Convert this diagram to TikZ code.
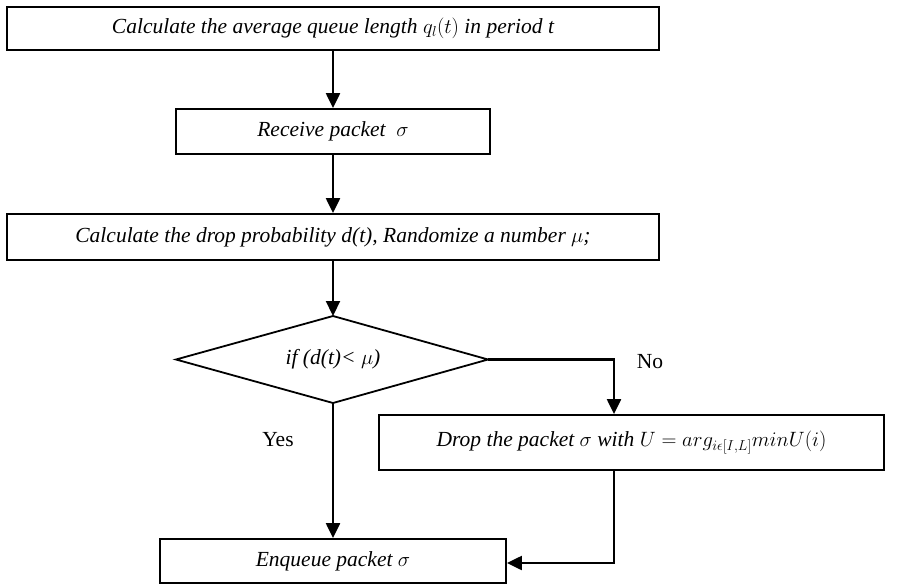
\documentclass[tikz,border=0pt]{standalone}
\usepackage{fontspec}
\setmainfont{Liberation Serif}
\usetikzlibrary{arrows.meta}
\begin{document}
\begin{tikzpicture}[x=1pt,y=-1pt,
  txt/.style={font=\fontsize{21.5}{25}\selectfont},
  box/.style={draw, line width=1.8pt, inner sep=0pt, font=\fontsize{21.5}{25}\selectfont\itshape},
  conn/.style={line width=2.2pt},
  arr/.style={conn, -{Triangle[length=15pt,width=14pt]}}]
\useasboundingbox (0,0) rectangle (911,584);
\node[box, minimum width=652pt, minimum height=43pt] (b1) at (333,28.5) {Calculate the average queue length $q_l(t)$ in period t};
\node[box, minimum width=314pt, minimum height=45pt] (b2) at (333,131.5) {Receive packet \ $\sigma$};
\node[box, minimum width=652pt, minimum height=46pt] (b3) at (333,237) {Calculate the drop probability d(t), Randomize a number $\mu$;};
\coordinate (dT) at (333,316);
\coordinate (dR) at (488,359.5);
\coordinate (dB) at (333,403);
\coordinate (dL) at (176,359.5);
\draw[line width=1.8pt] (dL) -- (dT) -- (dR) -- (dB) -- cycle;
\node[txt, font=\fontsize{21.5}{25}\selectfont\itshape] (dtext) at (333,359.5) {if (d(t)< $\mu$)};
\node[box, minimum width=505pt, minimum height=55pt] (b4) at (631.5,442.5) {Drop the packet $\sigma$ with $U = arg_{i\epsilon[I,L]} minU(i)$};
\node[box, minimum width=346pt, minimum height=44pt] (b5) at (333,561) {Enqueue packet $\sigma$};
\node[txt] (no) at (650,362) {No};
\node[txt] (yes) at (278,440) {Yes};
\coordinate (c1) at (614,359.5);
\coordinate (c2) at (614,563);
\draw[arr] (b1) -- (b2);
\draw[arr] (b2) -- (b3);
\draw[arr] (b3) -- (dT);
\draw[arr] (dR) -- (c1) -- (c1 |- b4.north);
\draw[arr] (dB) -- (dB |- b5.north);
\draw[arr] (b4.south -| c2) -- (c2) -- (b5.east |- c2);
\end{tikzpicture}
\end{document}
